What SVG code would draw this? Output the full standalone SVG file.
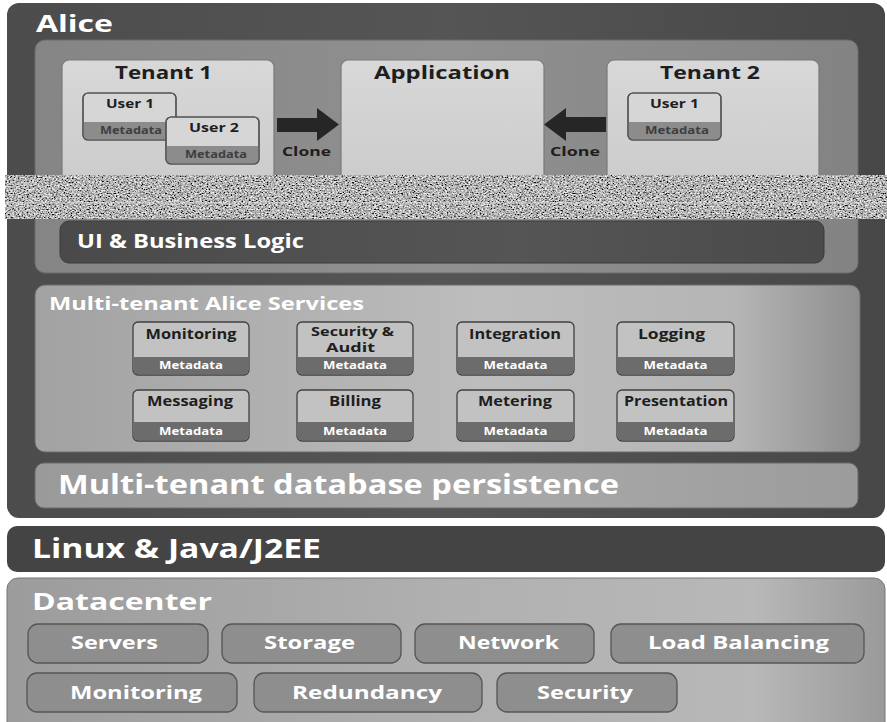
<svg xmlns="http://www.w3.org/2000/svg" width="887" height="722" viewBox="0 0 887 722">
<defs>
<style>
text{font-family:"Open Sans","Liberation Sans",sans-serif;font-weight:bold}
.w{fill:#ffffff}
.md{fill:#3e3e3e;font-size:10px}
.mdw{fill:#ffffff;font-size:10px}
.ttl{font-size:18px;fill:#1e1e1e}
.usr{font-size:13px;fill:#1e1e1e}
.svc{font-size:14px;fill:#1e1e1e}
.svc2{font-size:11.5px;fill:#1e1e1e}
.btn{font-size:17px;fill:#ffffff}
.tenant{fill:url(#gTen);stroke:#7a7a7a;stroke-width:1.2}
.user{fill:#d6d6d6;stroke:#505050;stroke-width:1.2}
.uband{fill:#8c8c8c}
.sbox{fill:#c2c2c2;stroke:#404040;stroke-width:1.3}
.sband{fill:#6c6c6c}
.dbtn{fill:#8e8e8e;stroke:#555555;stroke-width:1.3}
.arrow{fill:#262626}
</style>
<linearGradient id="gOuter" x1="0" y1="0" x2="1" y2="0">
<stop offset="0" stop-color="#4c4c4c"/><stop offset="0.5" stop-color="#555555"/><stop offset="1" stop-color="#474747"/>
</linearGradient>
<linearGradient id="gTop" x1="0" y1="0" x2="1" y2="0">
<stop offset="0" stop-color="#858585"/><stop offset="0.5" stop-color="#909090"/><stop offset="1" stop-color="#838383"/>
</linearGradient>
<linearGradient id="gTen" x1="0" y1="0" x2="0" y2="1">
<stop offset="0" stop-color="#d8d8d8"/><stop offset="1" stop-color="#cbcbcb"/>
</linearGradient>
<linearGradient id="gUI" x1="0" y1="0" x2="1" y2="0">
<stop offset="0" stop-color="#4a4a4a"/><stop offset="0.6" stop-color="#555555"/><stop offset="1" stop-color="#4a4a4a"/>
</linearGradient>
<linearGradient id="gSvc" x1="0" y1="0" x2="1" y2="0">
<stop offset="0" stop-color="#a2a2a2"/><stop offset="0.55" stop-color="#bdbdbd"/><stop offset="0.85" stop-color="#b5b5b5"/><stop offset="1" stop-color="#8e8e8e"/>
</linearGradient>
<linearGradient id="gDb" x1="0" y1="0" x2="1" y2="0">
<stop offset="0" stop-color="#9a9a9a"/><stop offset="0.6" stop-color="#a8a8a8"/><stop offset="1" stop-color="#9c9c9c"/>
</linearGradient>
<linearGradient id="gDc" x1="0" y1="0" x2="1" y2="0">
<stop offset="0" stop-color="#9c9c9c"/><stop offset="0.5" stop-color="#b0b0b0"/><stop offset="0.85" stop-color="#b8b8b8"/><stop offset="1" stop-color="#9a9a9a"/>
</linearGradient>
<filter id="noise" x="0" y="0" width="100%" height="100%">
<feTurbulence type="fractalNoise" baseFrequency="0.55 0.75" numOctaves="2" seed="7" result="t"/>
<feColorMatrix in="t" type="matrix" values="1.9 0 0 0 -0.5  1.9 0 0 0 -0.5  1.9 0 0 0 -0.5  0 0 0 0 1"/>
</filter>
</defs>
<rect width="887" height="722" fill="#ffffff"/>

<g id="alice">
<rect x="7" y="3" width="878" height="515" rx="12" fill="url(#gOuter)"/>
<text class="w" x="36" y="32" font-size="24" textLength="77" lengthAdjust="spacingAndGlyphs">Alice</text>
</g>

<g id="app-layer">
<rect x="35" y="40" width="823" height="233" rx="10" fill="url(#gTop)" stroke="#6a6a6a" stroke-width="1"/>
</g>

<g id="tenant1">
<rect class="tenant" x="62" y="60" width="212" height="130" rx="7"/>
<text class="ttl" x="115" y="79" textLength="97" lengthAdjust="spacingAndGlyphs">Tenant 1</text>
</g>
<g id="t1-user1">
<rect class="user" x="83" y="93" width="93" height="47" rx="5"/>
<path class="uband" d="M83.6 122 H175.4 V135 a4.5 4.5 0 0 1 -4.5 4.5 H88.1 a4.5 4.5 0 0 1 -4.5 -4.5 Z"/>
<rect x="83" y="93" width="93" height="47" rx="5" fill="none" stroke="#505050" stroke-width="1.2"/>
<text class="usr" x="106" y="108" textLength="48" lengthAdjust="spacingAndGlyphs">User 1</text>
<text class="md" x="100" y="134" textLength="62" lengthAdjust="spacingAndGlyphs">Metadata</text>
</g>
<g id="t1-user2">
<rect class="user" x="166" y="117" width="93" height="47" rx="5"/>
<path class="uband" d="M166.6 146 H258.4 V159 a4.5 4.5 0 0 1 -4.5 4.5 H171.1 a4.5 4.5 0 0 1 -4.5 -4.5 Z"/>
<rect x="166" y="117" width="93" height="47" rx="5" fill="none" stroke="#505050" stroke-width="1.2"/>
<text class="usr" x="189" y="132" textLength="50" lengthAdjust="spacingAndGlyphs">User 2</text>
<text class="md" x="185" y="158" textLength="62" lengthAdjust="spacingAndGlyphs">Metadata</text>
</g>

<g id="application">
<rect class="tenant" x="341" y="60" width="203" height="130" rx="7"/>
<text class="ttl" x="374" y="79" textLength="136" lengthAdjust="spacingAndGlyphs">Application</text>
</g>

<g id="tenant2">
<rect class="tenant" x="607" y="60" width="212" height="130" rx="7"/>
<text class="ttl" x="660" y="79" textLength="100" lengthAdjust="spacingAndGlyphs">Tenant 2</text>
</g>
<g id="t2-user1">
<rect class="user" x="628" y="93" width="93" height="47" rx="5"/>
<path class="uband" d="M628.6 122 H720.4 V135 a4.5 4.5 0 0 1 -4.5 4.5 H633.1 a4.5 4.5 0 0 1 -4.5 -4.5 Z"/>
<rect x="628" y="93" width="93" height="47" rx="5" fill="none" stroke="#505050" stroke-width="1.2"/>
<text class="usr" x="650" y="108" textLength="49" lengthAdjust="spacingAndGlyphs">User 1</text>
<text class="md" x="645" y="134" textLength="64" lengthAdjust="spacingAndGlyphs">Metadata</text>
</g>

<g id="connectors">
<polygon class="arrow" points="277,118 317,118 317,108 339,124.5 317,141 317,132 277,132"/>
<text class="usr" x="282" y="156" textLength="49" lengthAdjust="spacingAndGlyphs">Clone</text>
<polygon class="arrow" points="606,117 566,117 566,108 544,124.5 566,141 566,132 606,132"/>
<text class="usr" x="550" y="156" textLength="50" lengthAdjust="spacingAndGlyphs">Clone</text>
</g>

<g id="noise-band">
<rect x="5" y="175" width="882" height="44" filter="url(#noise)"/>
<rect x="5" y="202" width="882" height="1.5" fill="#e0e0e0" opacity="0.45"/>
<rect x="5" y="190" width="882" height="1" fill="#e0e0e0" opacity="0.2"/>
</g>

<g id="ui-logic">
<rect x="60" y="221" width="764" height="42" rx="9" fill="url(#gUI)" stroke="#3a3a3a" stroke-width="1"/>
<text class="w" x="77" y="248" font-size="19" textLength="227" lengthAdjust="spacingAndGlyphs">UI &amp; Business Logic</text>
</g>

<g id="services">
<rect x="35" y="285" width="825" height="167" rx="10" fill="url(#gSvc)" stroke="#6a6a6a" stroke-width="1"/>
<text class="w" x="49" y="310" font-size="17" textLength="315" lengthAdjust="spacingAndGlyphs">Multi-tenant Alice Services</text>
</g>

<g id="svc-monitoring">
<rect class="sbox" x="133" y="322" width="116" height="53" rx="5"/>
<path class="sband" d="M133.7 357 H248.3 V370 a4.3 4.3 0 0 1 -4.3 4.3 H138 a4.3 4.3 0 0 1 -4.3 -4.3 Z"/>
<text class="svc" x="191" y="339" text-anchor="middle" textLength="91" lengthAdjust="spacingAndGlyphs">Monitoring</text>
<text class="mdw" x="191" y="369" text-anchor="middle" textLength="64" lengthAdjust="spacingAndGlyphs">Metadata</text>
</g>
<g id="svc-security">
<rect class="sbox" x="297" y="322" width="116" height="53" rx="5"/>
<path class="sband" d="M297.7 357 H412.3 V370 a4.3 4.3 0 0 1 -4.3 4.3 H302 a4.3 4.3 0 0 1 -4.3 -4.3 Z"/>
<text class="svc2" x="352.5" y="336" text-anchor="middle" textLength="83" lengthAdjust="spacingAndGlyphs">Security &amp;</text>
<text class="svc2" x="350.5" y="352" text-anchor="middle" textLength="49" lengthAdjust="spacingAndGlyphs">Audit</text>
<text class="mdw" x="355" y="369" text-anchor="middle" textLength="64" lengthAdjust="spacingAndGlyphs">Metadata</text>
</g>
<g id="svc-integration">
<rect class="sbox" x="457" y="322" width="117" height="53" rx="5"/>
<path class="sband" d="M457.7 357 H573.3 V370 a4.3 4.3 0 0 1 -4.3 4.3 H462 a4.3 4.3 0 0 1 -4.3 -4.3 Z"/>
<text class="svc" x="515" y="339" text-anchor="middle" textLength="92" lengthAdjust="spacingAndGlyphs">Integration</text>
<text class="mdw" x="515.5" y="369" text-anchor="middle" textLength="64" lengthAdjust="spacingAndGlyphs">Metadata</text>
</g>
<g id="svc-logging">
<rect class="sbox" x="617" y="322" width="117" height="53" rx="5"/>
<path class="sband" d="M617.7 357 H733.3 V370 a4.3 4.3 0 0 1 -4.3 4.3 H622 a4.3 4.3 0 0 1 -4.3 -4.3 Z"/>
<text class="svc" x="671.5" y="339" text-anchor="middle" textLength="67" lengthAdjust="spacingAndGlyphs">Logging</text>
<text class="mdw" x="675.5" y="369" text-anchor="middle" textLength="64" lengthAdjust="spacingAndGlyphs">Metadata</text>
</g>
<g id="svc-messaging">
<rect class="sbox" x="133" y="390" width="116" height="51" rx="5"/>
<path class="sband" d="M133.7 422 H248.3 V436 a4.3 4.3 0 0 1 -4.3 4.3 H138 a4.3 4.3 0 0 1 -4.3 -4.3 Z"/>
<text class="svc" x="190" y="406" text-anchor="middle" textLength="86" lengthAdjust="spacingAndGlyphs">Messaging</text>
<text class="mdw" x="191" y="435" text-anchor="middle" textLength="64" lengthAdjust="spacingAndGlyphs">Metadata</text>
</g>
<g id="svc-billing">
<rect class="sbox" x="297" y="390" width="116" height="51" rx="5"/>
<path class="sband" d="M297.7 422 H412.3 V436 a4.3 4.3 0 0 1 -4.3 4.3 H302 a4.3 4.3 0 0 1 -4.3 -4.3 Z"/>
<text class="svc" x="355" y="406" text-anchor="middle" textLength="52" lengthAdjust="spacingAndGlyphs">Billing</text>
<text class="mdw" x="355" y="435" text-anchor="middle" textLength="64" lengthAdjust="spacingAndGlyphs">Metadata</text>
</g>
<g id="svc-metering">
<rect class="sbox" x="457" y="390" width="117" height="51" rx="5"/>
<path class="sband" d="M457.7 422 H573.3 V436 a4.3 4.3 0 0 1 -4.3 4.3 H462 a4.3 4.3 0 0 1 -4.3 -4.3 Z"/>
<text class="svc" x="515" y="406" text-anchor="middle" textLength="74" lengthAdjust="spacingAndGlyphs">Metering</text>
<text class="mdw" x="515.5" y="435" text-anchor="middle" textLength="64" lengthAdjust="spacingAndGlyphs">Metadata</text>
</g>
<g id="svc-presentation">
<rect class="sbox" x="617" y="390" width="117" height="51" rx="5"/>
<path class="sband" d="M617.7 422 H733.3 V436 a4.3 4.3 0 0 1 -4.3 4.3 H622 a4.3 4.3 0 0 1 -4.3 -4.3 Z"/>
<text class="svc" x="676" y="406" text-anchor="middle" textLength="104" lengthAdjust="spacingAndGlyphs">Presentation</text>
<text class="mdw" x="675.5" y="435" text-anchor="middle" textLength="64" lengthAdjust="spacingAndGlyphs">Metadata</text>
</g>

<g id="db-persistence">
<rect x="35" y="463" width="823" height="45" rx="9" fill="url(#gDb)" stroke="#6a6a6a" stroke-width="1"/>
<text class="w" x="58" y="494" font-size="26" textLength="561" lengthAdjust="spacingAndGlyphs">Multi-tenant database persistence</text>
</g>

<g id="linux-java">
<rect x="7" y="526" width="878" height="46" rx="10" fill="#444444"/>
<text class="w" x="32" y="558" font-size="26" textLength="289" lengthAdjust="spacingAndGlyphs">Linux &amp; Java/J2EE</text>
</g>

<g id="datacenter">
<rect x="7" y="578" width="878" height="160" rx="11" fill="url(#gDc)" stroke="#777777" stroke-width="1"/>
<text class="w" x="32" y="610" font-size="24" textLength="180" lengthAdjust="spacingAndGlyphs">Datacenter</text>
</g>

<g id="dc-servers"><rect class="dbtn" x="28" y="624" width="180" height="39" rx="10"/><text class="btn" x="71" y="649" textLength="87" lengthAdjust="spacingAndGlyphs">Servers</text></g>
<g id="dc-storage"><rect class="dbtn" x="222" y="624" width="179" height="39" rx="10"/><text class="btn" x="264" y="649" textLength="91" lengthAdjust="spacingAndGlyphs">Storage</text></g>
<g id="dc-network"><rect class="dbtn" x="415" y="624" width="179" height="39" rx="10"/><text class="btn" x="458" y="649" textLength="101" lengthAdjust="spacingAndGlyphs">Network</text></g>
<g id="dc-loadbalancing"><rect class="dbtn" x="611" y="624" width="253" height="39" rx="10"/><text class="btn" x="648" y="649" textLength="181" lengthAdjust="spacingAndGlyphs">Load Balancing</text></g>
<g id="dc-monitoring"><rect class="dbtn" x="27" y="673" width="210" height="39" rx="10"/><text class="btn" x="70" y="699" textLength="132" lengthAdjust="spacingAndGlyphs">Monitoring</text></g>
<g id="dc-redundancy"><rect class="dbtn" x="254" y="673" width="228" height="39" rx="10"/><text class="btn" x="292" y="699" textLength="150" lengthAdjust="spacingAndGlyphs">Redundancy</text></g>
<g id="dc-security"><rect class="dbtn" x="497" y="673" width="180" height="39" rx="10"/><text class="btn" x="537" y="699" textLength="96" lengthAdjust="spacingAndGlyphs">Security</text></g>
</svg>
